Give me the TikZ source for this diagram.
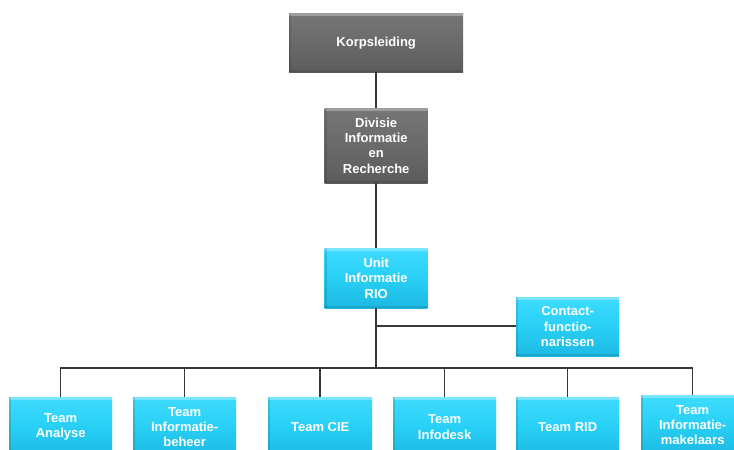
\documentclass[tikz,border=0pt]{standalone}
\usepackage{fontspec}
\setmainfont{Liberation Sans}
\begin{document}
\begin{tikzpicture}[x=1pt,y=-1pt,
  box/.style={rectangle, anchor=north west, inner sep=0pt, align=center,
    font=\bfseries\fontsize{13}{15.3}\selectfont, text=white,
    path picture={
      \fill[white,opacity=0.30] (path picture bounding box.north west) rectangle
        ([yshift=-3pt]path picture bounding box.north east);
      \fill[black,opacity=0.12] (path picture bounding box.north west) rectangle
        ([xshift=2pt]path picture bounding box.south west);
      \fill[black,opacity=0.10] (path picture bounding box.south west) rectangle
        ([yshift=2pt]path picture bounding box.south east);
    }},
  graybox/.style={box, top color=grayTop, bottom color=grayBot, middle color=grayMid},
  cyanbox/.style={box, top color=cyanTop, bottom color=cyanBot, middle color=cyanMid},
  link/.style={draw=black!78, line width=1.5pt}
]
\definecolor{grayTop}{HTML}{767676}
\definecolor{grayMid}{HTML}{6A6A6A}
\definecolor{grayBot}{HTML}{5C5C5C}
\definecolor{cyanTop}{HTML}{3FDCFF}
\definecolor{cyanMid}{HTML}{28CFF5}
\definecolor{cyanBot}{HTML}{1DB9E2}
\useasboundingbox[fill=white] (0,0) rectangle (734,450);

% management levels
\node[graybox, minimum width=174pt, minimum height=59pt] (korps) at (289,13) {Korpsleiding};
\node[graybox, minimum width=103pt, minimum height=75pt] (div) at (324.5,108)
  {Divisie\\Informatie\\en\\Recherche};
\node[cyanbox, minimum width=103pt, minimum height=60pt] (unit) at (324.5,248)
  {Unit\\Informatie\\RIO};
\node[cyanbox, minimum width=103pt, minimum height=59pt] (contact) at (516,297)
  {Contact-\\functio-\\narissen};

% teams
\node[cyanbox, minimum width=103pt, minimum height=60pt] (t1) at (9,397) {Team\\Analyse};
\node[cyanbox, minimum width=103pt, minimum height=60pt] (t2) at (133,397) {Team\\Informatie-\\beheer};
\node[cyanbox, minimum width=104pt, minimum height=60pt] (t3) at (268,397) {Team CIE};
\node[cyanbox, minimum width=103pt, minimum height=60pt] (t4) at (393,397) {Team\\Infodesk};
\node[cyanbox, minimum width=103pt, minimum height=60pt] (t5) at (516,397) {Team RID};
\node[cyanbox, minimum width=103pt, minimum height=60pt] (t6) at (641,395) {Team\\Informatie-\\makelaars};

% connectors
\coordinate (bus) at (korps.south |- 0,368);
\coordinate (cj) at (korps.south |- 0,326);
\draw[link] (korps.south) -- (div.north);
\draw[link] (div.south) -- (unit.north);
\draw[link] (unit.south) -- (bus);
\draw[link] (cj) -- (contact.west |- cj);
\draw[link] (bus) -| (t1.north);
\draw[link] (bus) -| (t2.north);
\draw[link] (bus) -| (t3.north);
\draw[link] (bus) -| (t4.north);
\draw[link] (bus) -| (t5.north);
\draw[link] (bus) -| (t6.north);
\end{tikzpicture}
\end{document}
